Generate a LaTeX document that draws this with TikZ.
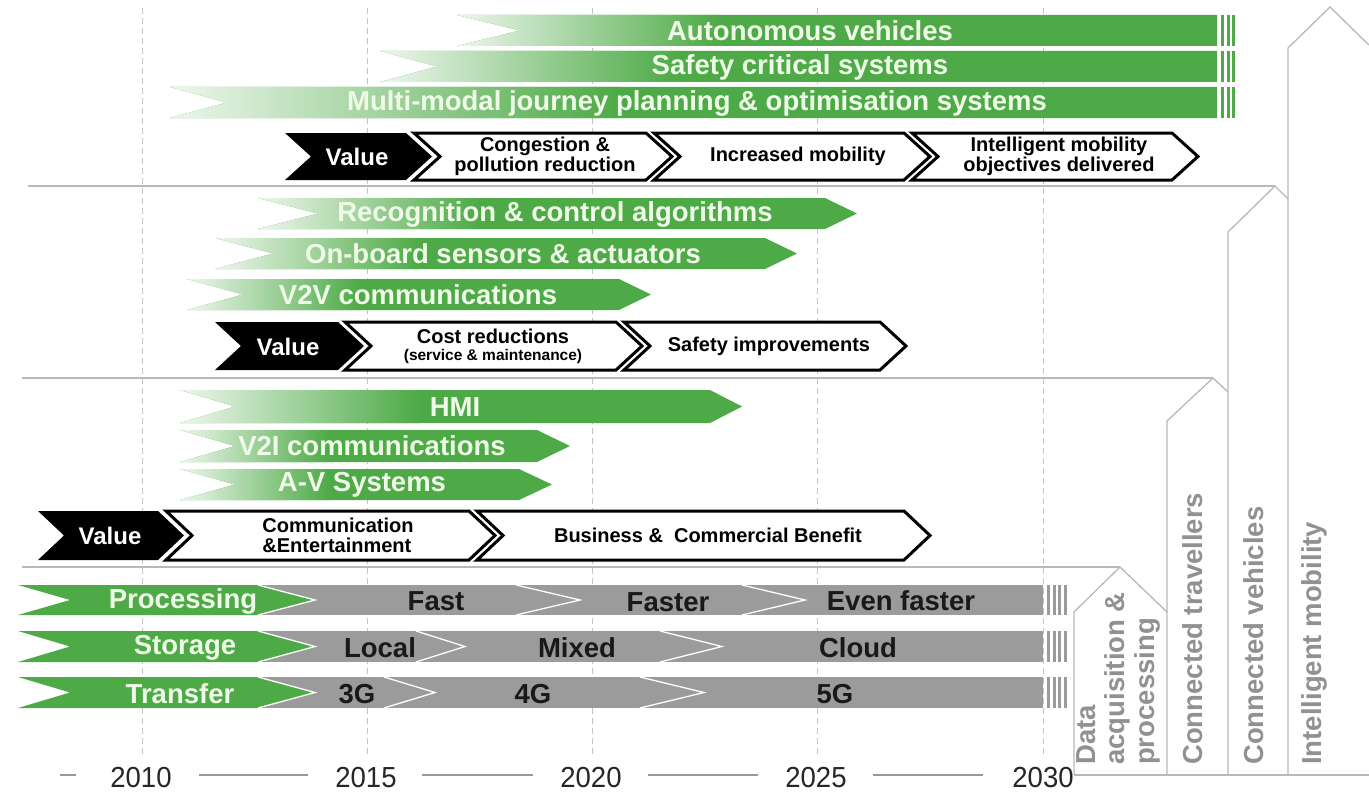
\documentclass[tikz,border=0pt]{standalone}
\usepackage{fontspec}
\setmainfont{Liberation Sans}
\newfontfamily\yearfont[FakeStretch=0.95]{Liberation Sans}
\definecolor{gfill}{RGB}{77,170,70}
\definecolor{gbarc}{RGB}{155,155,155}
\definecolor{linec}{RGB}{185,185,185}
\definecolor{gridc}{RGB}{195,195,195}
\definecolor{vtc}{RGB}{145,145,145}
\definecolor{lbltxt}{RGB}{240,250,232}
\newcommand{\chv}[6]{(#1,#3) -- ({#2-#6},#3) -- (#2,{(#3+#4)/2}) -- ({#2-#6},#4) -- (#1,#4) -- ({#1+#5},{(#3+#4)/2}) -- cycle}
\newcommand{\gbar}[7]{%
  \fill[gfill] \chv{#1}{#2}{#3}{#4}{#5}{#6};
  \begin{scope}
    \clip \chv{#1}{#2}{#3}{#4}{#5}{#6};
    \shade[left color=gfill!10, right color=gfill] (#1,#3) rectangle (#7,#4);
  \end{scope}}
\newcommand{\gstripes}[5]{% x0 T B colour count
  \foreach \k in {1,...,#5} \fill[#4] ({#1+5.5*(\k-1)},#2) rectangle ({#1+5.5*(\k-1)+3},#3);}
\newcommand{\vblack}[5]{\fill[black] \chv{#1}{#2}{#3}{#4}{#5}{#5};}
\newcommand{\vwhite}[5]{\draw[fill=white,line width=3pt,line join=miter] \chv{#1}{#2}{#3}{#4}{#5}{#5};}
\newcommand{\gdiv}[4]{\draw[white,line width=1.3pt] (#1,#3) -- (#2,{(#3+#4)/2}) -- (#1,#4);}
\tikzset{
  lbl/.style={font=\fontsize{27.5}{29}\selectfont\bfseries, text=lbltxt, inner sep=0pt},
  glbl/.style={font=\fontsize{27.5}{29}\selectfont\bfseries, text=black!90, inner sep=0pt},
  vtxt/.style={font=\fontsize{20}{20}\selectfont\bfseries, align=center, inner sep=0pt},
  valtxt/.style={font=\fontsize{24}{26}\selectfont\bfseries, text=white, inner sep=0pt},
  rtxt/.style={font=\fontsize{27.5}{29.5}\selectfont\bfseries, text=vtc, rotate=90, anchor=west, align=left, inner sep=0pt},
  year/.style={font=\yearfont\fontsize{29}{30}\selectfont, text=black!85, inner sep=0pt},
  sep/.style={draw=linec, line width=1.3pt},
  grid/.style={draw=gridc, line width=0.8pt, dash pattern=on 6pt off 4pt},
  yline/.style={draw=black!40, line width=1.2pt}
}
\begin{document}
\begin{tikzpicture}[x=1pt,y=-1pt]
\useasboundingbox (0,0) rectangle (1369,792);
\fill[white] (0,0) rectangle (1369,792);

% year grid
\foreach \gx in {142,367,592,817,1043} \draw[grid] (\gx,8) -- (\gx,758);

% separators
\draw[sep] (28,186) -- (1275,186);
\draw[sep] (22,378) -- (1213,378);
\draw[sep] (22,567) -- (1120,567);

% vertical arrows
\draw[sep] (1074,775) -- (1074,612) -- (1120,567) -- (1167,612) -- (1167,775);
\draw[sep] (1167,612) -- (1167,421) -- (1213,378) -- (1228,392) -- (1228,775);
\draw[sep] (1228,392) -- (1228,232) -- (1275,186) -- (1288,199) -- (1288,775);
\draw[sep] (1288,199) -- (1288,48) -- (1330,7) -- (1369,45);
\draw[sep] (1074,775) -- (1369,775);

% top section bars
\gbar{457}{1217}{15}{46}{63}{0}{720}
\gbar{380}{1217}{51}{82}{57}{0}{680}
\gbar{170}{1217}{87}{118}{57}{0}{620}
\gstripes{1221}{15}{46}{gfill}{3}
\gstripes{1221}{51}{82}{gfill}{3}
\gstripes{1221}{87}{118}{gfill}{3}
\node[lbl] (av) at (810,31) {Autonomous vehicles};
\node[lbl] (scs) at (800,67) {Safety critical systems};
\node[lbl] (mm) at (697,103) {Multi-modal journey planning \& optimisation systems};

% value row 1
\vblack{285}{432}{133}{180}{26}
\vwhite{414}{672}{133}{180}{26}
\vwhite{654}{930}{133}{180}{26}
\vwhite{912}{1198}{133}{180}{26}
\node[valtxt] (v1) at (357,157) {Value};
\node[vtxt] (c1) at (545,156) {Congestion \&\\pollution reduction};
\node[vtxt] (c2) at (798,156) {Increased mobility};
\node[vtxt] (c3) at (1059,156) {Intelligent mobility\\objectives delivered};

% middle section bars
\gbar{258}{857}{198}{229}{60}{32}{480}
\gbar{215}{797}{238}{269}{58}{32}{420}
\gbar{187}{651}{279}{310}{56}{32}{360}
\node[lbl] (rec) at (555,214) {Recognition \& control algorithms};
\node[lbl] (obs) at (503,254) {On-board sensors \& actuators};
\node[lbl] (v2v) at (418,295) {V2V communications};

% value row 2
\vblack{215}{364}{322}{370}{26}
\vwhite{345}{642}{322}{370}{26}
\vwhite{624}{906}{322}{370}{26}
\node[valtxt] (v2) at (288,347) {Value};
\node[vtxt] (cr) at (493,346) {Cost reductions\\[-3pt]{\fontsize{15.5}{16}\selectfont (service \& maintenance)}};
\node[vtxt] (si) at (769,346) {Safety improvements};

% lower section bars
\gbar{180}{742}{390}{423}{55}{32}{420}
\gbar{180}{570}{430}{462}{55}{33}{330}
\gbar{180}{552}{469}{500}{55}{33}{330}
\node[lbl] (hmi) at (455,407) {HMI};
\node[lbl] (v2i) at (372,446) {V2I communications};
\node[lbl] (avs) at (362,485) {A-V Systems};

% value row 3
\vblack{38}{184}{511}{560}{26}
\vwhite{166}{495}{511}{560}{26}
\vwhite{477}{930}{511}{560}{26}
\node[valtxt] (v3) at (110,536) {Value};
\node[vtxt, align=left] (ce) at (338,535) {Communication\\\&Entertainment};
\node[vtxt] (bc) at (708,535) {Business \&\ \ Commercial Benefit};

% grey rows
\foreach \yt/\yb in {585/615, 631/662, 677/708} {
  \fill[gbarc] (250,\yt) rectangle (1043,\yb);
  \gstripes{1047}{\yt}{\yb}{gbarc}{4}
  \fill[gfill] \chv{18}{315}{\yt}{\yb}{52}{57};
  \gdiv{258}{315}{\yt}{\yb}
}
\gdiv{516}{580}{585}{615}
\gdiv{742}{805}{585}{615}
\gdiv{416}{465}{631}{662}
\gdiv{660}{722}{631}{662}
\gdiv{384}{435}{677}{708}
\gdiv{640}{704}{677}{708}
\node[lbl] (proc) at (183,601) {Processing};
\node[lbl] (stor) at (185,648) {Storage};
\node[lbl] (tran) at (180,694) {Transfer};
\node[glbl] (fast) at (436,601) {Fast};
\node[glbl] (faster) at (668,602) {Faster};
\node[glbl] (efast) at (901,601) {Even faster};
\node[glbl] (local) at (380,648) {Local};
\node[glbl] (mixed) at (577,648) {Mixed};
\node[glbl] (cloud) at (858,648) {Cloud};
\node[glbl] (g3) at (357,694) {3G};
\node[glbl] (g4) at (533,694) {4G};
\node[glbl] (g5) at (835,694) {5G};

% rotated labels
\node[rtxt] (dap) at (1118,765) {Data\\acquisition \&\\processing};
\node[rtxt] (ct) at (1193,765) {Connected travellers};
\node[rtxt] (cv) at (1254,765) {Connected vehicles};
\node[rtxt] (im) at (1314,765) {Intelligent mobility};

% years
\draw[yline] (60,775) -- (76,775);
\draw[yline] (199,775) -- (308,775);
\draw[yline] (422,775) -- (533,775);
\draw[yline] (648,775) -- (758,775);
\draw[yline] (873,775) -- (983,775);
\node[year] (y10) at (141,778) {2010};
\node[year] (y15) at (366,778) {2015};
\node[year] (y20) at (591,778) {2020};
\node[year] (y25) at (816,778) {2025};
\node[year] (y30) at (1043,778) {2030};
\end{tikzpicture}
\end{document}
